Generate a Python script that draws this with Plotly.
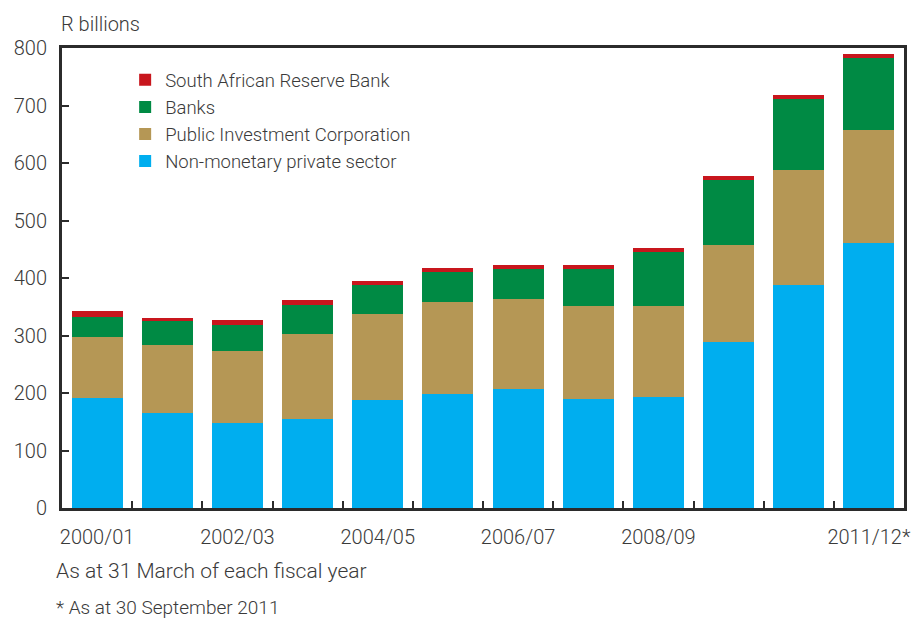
import plotly.graph_objects as go

# ---- data (R billions) ----
years = ["2000/01", "2001/02", "2002/03", "2003/04", "2004/05", "2005/06",
         "2006/07", "2007/08", "2008/09", "2009/10", "2010/11", "2011/12*"]
tick_labels = ["2000/01", "", "2002/03", "", "2004/05", "",
               "2006/07", "", "2008/09", "", "", "2011/12*"]
non_monetary_private = [192, 166, 148, 154, 188, 199, 207, 190, 193, 289, 387, 461]
pic = [106, 118, 125, 148, 150, 160, 157, 162, 159, 169, 200, 196]
banks = [35, 40.5, 45, 51, 50, 52, 51, 63, 94, 113, 125, 125]
sarb = [9, 6.5, 9, 8, 7, 7, 7, 7, 7, 7, 7, 7]
y_ticks = [0, 100, 200, 300, 400, 500, 600, 700, 800]

FONT = "Roboto"
W = 300
TXT = "#3a3a3a"
AX = "#2b2b2b"

series = [
    ("Non-monetary private sector", non_monetary_private, "#00AEEF"),
    ("Public Investment Corporation", pic, "#B59755"),
    ("Banks", banks, "#008A44"),
    ("South African Reserve Bank", sarb, "#C8161D"),
]

fig = go.Figure()
for name, vals, col in series:
    fig.add_trace(go.Bar(x=years, y=vals, name=name, marker=dict(color=col, line=dict(width=0))))

fig.update_layout(
    width=912, height=621,
    barmode="stack", bargap=0.274,
    paper_bgcolor="white", plot_bgcolor="white",
    margin=dict(l=62, r=8, t=48, b=113),
    font=dict(family=FONT, size=20, color=TXT, weight=W),
    legend=dict(
        x=0.075, y=0.971, xanchor="left", yanchor="top",
        traceorder="reversed", font=dict(size=18.5, color=TXT, family=FONT, weight=W),
        bgcolor="rgba(0,0,0,0)", tracegroupgap=0, itemwidth=30,
    ),
    xaxis=dict(
        type="category", range=[-0.5, 11.5],
        tickmode="array", tickvals=years, ticktext=tick_labels, tickangle=0,
        tickson="boundaries", ticks="inside", ticklen=7, tickwidth=2, tickcolor=AX,
        showline=True, linecolor=AX, linewidth=3, mirror=True,
        showgrid=False, zeroline=False, automargin=False,
        ticklabelstandoff=9, tickfont=dict(size=20, color=TXT, family=FONT, weight=W),
    ),
    yaxis=dict(
        range=[0, 800], tickmode="array", tickvals=y_ticks,
        ticks="inside", ticklen=7, tickwidth=2, tickcolor=AX,
        showline=True, linecolor=AX, linewidth=3, mirror=True,
        showgrid=False, zeroline=False, automargin=False,
        ticklabelstandoff=8, tickfont=dict(size=20, color=TXT, family=FONT, weight=W),
    ),
    annotations=[
        dict(text="R billions", xref="paper", yref="paper", x=-0.003, y=1.0215,
             xanchor="left", yanchor="bottom", showarrow=False,
             font=dict(size=20, color=TXT, family=FONT, weight=W)),
        dict(text="As at 31 March of each fiscal year", xref="paper", yref="paper",
             x=-0.01, y=-0.138, xanchor="left", yanchor="middle", showarrow=False,
             font=dict(size=21, color=TXT, family=FONT, weight=W)),
        dict(text="* As at 30 September 2011", xref="paper", yref="paper",
             x=-0.01, y=-0.216, xanchor="left", yanchor="middle", showarrow=False,
             font=dict(size=19, color=TXT, family=FONT, weight=W)),
    ],
)

fig.write_html("out.html", config={"displayModeBar": False},
               post_script="document.body.style.margin='0';document.body.style.overflow='hidden';")
